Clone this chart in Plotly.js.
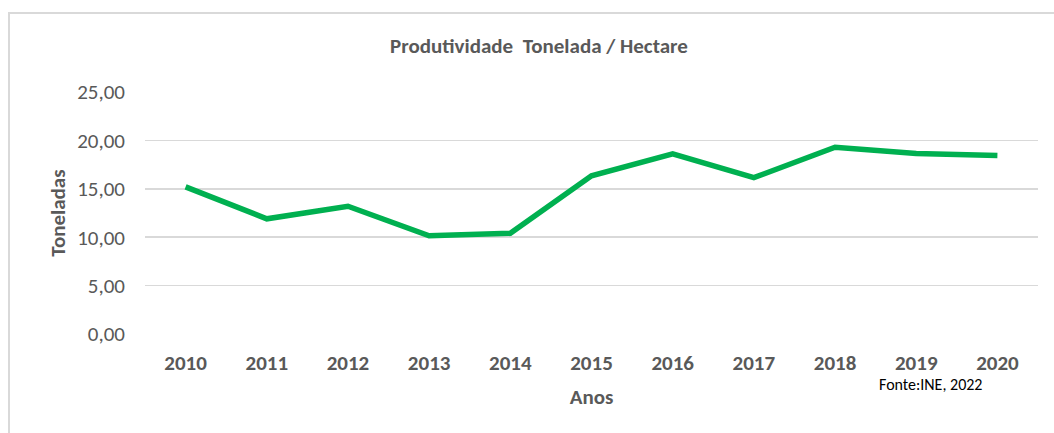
<!DOCTYPE html>
<html><head><meta charset="utf-8">
<script src="https://cdn.plot.ly/plotly-3.0.1.min.js"></script>
<style>
html,body{margin:0;padding:0;background:#fff;}
#frame{position:absolute;left:8px;top:12px;width:1100px;height:500px;border-left:2px solid #d9d9d9;border-top:2px solid #d9d9d9;}
#chart{position:absolute;left:0;top:0;width:1054px;height:433px;}
</style></head>
<body>
<div id="frame"></div>
<div id="chart"></div>
<script>
const years = ["2010","2011","2012","2013","2014","2015","2016","2017","2018","2019","2020"];
const produtividade = [15.2, 11.9, 13.2, 10.15, 10.4, 16.35, 18.6, 16.15, 19.3, 18.65, 18.45];
const yTicks = [0, 5, 10, 15, 20, 25];
const yTickText = ["0,00", "5,00", "10,00", "15,00", "20,00", "25,00"];

const FONT = "Carlito, Calibri, Lato, 'Open Sans', sans-serif";
const GREY = "#595959";

Plotly.newPlot("chart", [{
  x: years, y: produtividade, type: "scatter", mode: "lines",
  line: {color: "#00b050", width: 5.5},
  hoverinfo: "skip"
}], {
  width: 1054, height: 433,
  paper_bgcolor: "rgba(0,0,0,0)", plot_bgcolor: "rgba(0,0,0,0)",
  margin: {l: 145, r: 16, t: 92, b: 99},
  showlegend: false,
  font: {family: FONT, color: GREY},
  title: {text: "<b>Produtividade  Tonelada / Hectare</b>", x: 539/1054, xanchor: "center", xref: "container", y: 1 - 46/433, yref: "container", yanchor: "middle",
          font: {family: FONT, size: 21, color: GREY}},
  xaxis: {type: "category", range: [-0.5, 10.5], showgrid: false, zeroline: false, showline: false, ticks: "",
          tickfont: {family: FONT, size: 21, color: GREY}, ticklabelstandoff: 14,
          tickprefix: "<b>", ticksuffix: "</b>",
          title: {text: "<b>Anos</b>", font: {family: FONT, size: 21, color: GREY}, standoff: 14}},
  yaxis: {range: [0, 25], tickvals: yTicks, ticktext: yTickText, showgrid: true, gridcolor: "#d9d9d9", gridwidth: 1.5,
          zeroline: false, showline: false, ticks: "", ticklabelstandoff: 19,
          tickfont: {family: FONT, size: 21, color: GREY},
          title: {text: "<b>Toneladas</b>", font: {family: FONT, size: 21, color: GREY}, standoff: 5}},
  annotations: [{text: "Fonte:INE, 2022", xref: "paper", yref: "paper", x: (930-145)/893, y: -(384-334)/242,
                 xanchor: "center", yanchor: "middle", showarrow: false,
                 font: {family: FONT, size: 16, color: "#000"}}]
}, {displayModeBar: false, staticPlot: true});
</script>
</body></html>
